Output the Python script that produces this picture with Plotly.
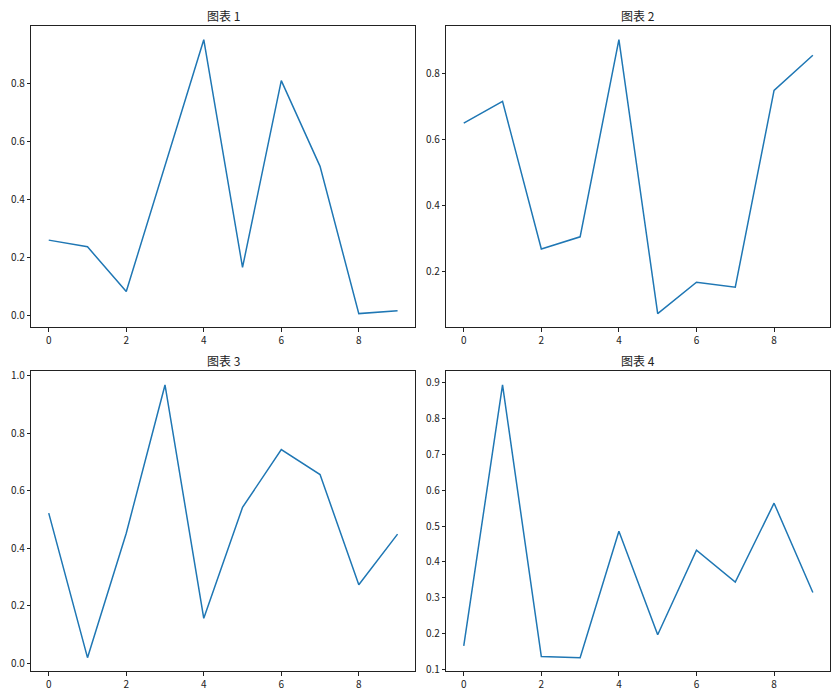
import plotly.graph_objects as go

x_vals = list(range(10))
titles = ["图表 1", "图表 2", "图表 3", "图表 4"]
series1 = [0.261, 0.238, 0.084, 0.52, 0.951, 0.167, 0.810, 0.515, 0.008, 0.018]
series2 = [0.649, 0.715, 0.267, 0.304, 0.902, 0.071, 0.166, 0.151, 0.748, 0.855]
series3 = [0.522, 0.019, 0.452, 0.968, 0.156, 0.542, 0.743, 0.656, 0.273, 0.449]
series4 = [0.166, 0.894, 0.136, 0.133, 0.486, 0.197, 0.433, 0.344, 0.564, 0.315]
all_series = [series1, series2, series3, series4]
y_dticks = [0.2, 0.2, 0.2, 0.1]

W, H = 840, 700
x_domains = [[31.3 / W, 415 / W], [446.3 / W, 830.3 / W]]
y_domains_px = [[26, 327.3], [371.3, 671.3]]
y_domains = [[1 - b / H, 1 - t / H] for t, b in y_domains_px]

fig = go.Figure()
annotations = []
for i, ys in enumerate(all_series):
    r, c = divmod(i, 2)
    idx = "" if i == 0 else str(i + 1)
    fig.add_trace(go.Scatter(
        x=x_vals, y=ys, mode="lines",
        line=dict(color="#1f77b4", width=1.5),
        xaxis="x" + idx, yaxis="y" + idx, showlegend=False,
    ))
    ymin, ymax = min(ys), max(ys)
    pad = (ymax - ymin) * 0.05
    axis_common = dict(
        showline=True, linecolor="#222", linewidth=1, mirror=True,
        ticks="outside", ticklen=3.5, tickwidth=1, tickcolor="#222",
        showgrid=False, zeroline=False, automargin=False,
        tickfont=dict(family="Noto Sans CJK SC, DejaVu Sans", size=10, color="#222"),
    )
    fig.update_layout(**{
        "xaxis" + idx: dict(
            domain=x_domains[c], range=[-0.45, 9.45], dtick=2, tick0=0,
            anchor="y" + idx, **axis_common),
        "yaxis" + idx: dict(
            domain=y_domains[r], range=[ymin - pad, ymax + pad],
            dtick=y_dticks[i], tick0=0, tickformat=".1f",
            anchor="x" + idx, **axis_common),
    })
    annotations.append(dict(
        text=titles[i], xref="paper", yref="paper",
        x=(x_domains[c][0] + x_domains[c][1]) / 2,
        y=y_domains[r][1] + 11 / H, xanchor="center", yanchor="middle",
        showarrow=False,
        font=dict(family="Noto Sans CJK SC", size=12, color="#222"),
    ))

fig.update_layout(
    width=W, height=H, margin=dict(l=0, r=0, t=0, b=0, pad=0, autoexpand=False),
    paper_bgcolor="white", plot_bgcolor="white",
    annotations=annotations,
)
fig.write_html("out.html")
